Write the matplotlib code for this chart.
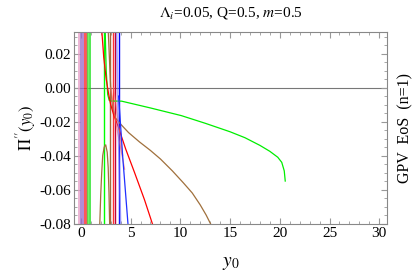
import matplotlib
matplotlib.use("Agg")
import matplotlib.pyplot as plt
from matplotlib.ticker import MultipleLocator
import numpy as np

plt.rcParams['font.family'] = ['Liberation Serif', 'DejaVu Serif']
plt.rcParams['mathtext.fontset'] = 'stix'

# Vertical lines near the origin (x position, colour)
near_x = [-0.15, 0.05, 0.2, 0.4, 0.6, 0.75, 0.95]
near_c = ['#e7a0c8', '#9966cc', '#9966cc', '#ff2020', '#e03030', '#40ee40', '#20e020']

# Other vertical lines (x position, colour)
vert_x = [2.35, 2.9, 3.25, 3.4, 3.8]
vert_c = ['#00ff00', '#a06a3c', '#ff3030', '#c0003a', '#0000ff']

# Green curve
green_x = [2.45, 2.55, 2.7, 2.85, 3.0, 4.1, 7.0, 10.1, 12.5, 15.0, 16.5, 18.0, 19.0, 19.8, 20.2, 20.45, 20.55]
green_y = [0.033, 0.010, -0.004, -0.0075, -0.0079, -0.008, -0.012, -0.0165, -0.021, -0.026, -0.0295, -0.034, -0.0375, -0.041, -0.044, -0.049, -0.055]

# Brown curve
brown_x = [2.75, 3.0, 3.2, 3.5, 4.0, 4.8, 5.9, 7.0, 8.0, 9.2, 10.3, 11.2, 12.0, 12.6, 13.2]
brown_y = [0.034, 0.0, -0.012, -0.018, -0.0215, -0.0265, -0.032, -0.037, -0.042, -0.049, -0.056, -0.062, -0.069, -0.075, -0.082]

# Brown hump
hump_x = [1.9, 2.0, 2.1, 2.2, 2.35, 2.5, 2.65, 2.75, 2.83, 2.9]
hump_y = [-0.081, -0.063, -0.050, -0.040, -0.035, -0.0337, -0.038, -0.047, -0.062, -0.081]

# Red diagonal
red_x = [2.1, 2.3, 2.55, 2.8, 3.0, 3.3, 3.7, 4.5, 5.4, 6.4, 7.3]
red_y = [0.034, 0.018, 0.005, -0.004, -0.010, -0.016, -0.022, -0.036, -0.050, -0.066, -0.082]

# Faint red lines
fred1_x = [3.0, 3.5, 4.4]
fred1_y = [0.0, -0.02, -0.048]
fred2_x = [3.3, 3.7, 4.2]
fred2_y = [0.0, -0.018, -0.040]

# Blue lines
blue1_x = [3.6, 3.75, 4.0]
blue1_y = [0.034, -0.02, -0.081]
blue2_x = [3.8, 4.2, 4.75]
blue2_y = [-0.005, -0.04, -0.081]

fig = plt.figure(figsize=(4.15, 2.78), dpi=100)
ax = fig.add_axes([0.178, 0.194, 0.755, 0.691])

ax.axhline(0, color='#777777', lw=0.8, zorder=1)

for x, c in zip(near_x, near_c):
    ax.axvline(x, color=c, lw=1.2, alpha=0.9)
for x, c in zip(vert_x, vert_c):
    ax.axvline(x, color=c, lw=1.0)

ax.plot(green_x, green_y, color='#00ee00', lw=0.9)
ax.plot(brown_x, brown_y, color='#a0703c', lw=0.9)
ax.plot(hump_x, hump_y, color='#a0703c', lw=0.9)
ax.plot(red_x, red_y, color='#ff0000', lw=0.9)
ax.plot(fred1_x, fred1_y, color='#ff6060', lw=0.9, alpha=0.6)
ax.plot(fred2_x, fred2_y, color='#ff6060', lw=0.9, alpha=0.6)
ax.plot(blue1_x, blue1_y, color='#7070ff', lw=1.2, alpha=0.6)
ax.plot(blue2_x, blue2_y, color='#2030ff', lw=0.9)

ax.set_xlim(-0.7, 30.8)
ax.set_ylim(-0.0803, 0.0327)

ax.xaxis.set_major_locator(MultipleLocator(5))
ax.xaxis.set_minor_locator(MultipleLocator(1))
ax.yaxis.set_major_locator(MultipleLocator(0.02))
ax.yaxis.set_minor_locator(MultipleLocator(0.005))
ax.yaxis.set_major_formatter(matplotlib.ticker.FuncFormatter(lambda v, p: f"{v:.2f}".replace('-0.00', '0.00')))

for s in ax.spines.values():
    s.set_color('#888888')
    s.set_linewidth(0.8)
ax.tick_params(which='both', direction='in', top=True, right=True, color='#999999', labelsize=11, pad=2)
ax.tick_params(which='major', length=4)
ax.tick_params(which='minor', length=2)

ax.set_title(r'$\Lambda_i$=0.05, Q=0.5, $m$=0.5', fontsize=11, pad=11)
ax.set_xlabel(r'$y_0$', fontsize=14, labelpad=11)
ax.set_ylabel(r"$\Pi''(y_0)$", fontsize=12, labelpad=1)
fig.text(0.978, 0.54, 'GPV  EoS  (n=1)', rotation=90, fontsize=11.5, ha='center', va='center')

fig.savefig('out.png', dpi=100)
